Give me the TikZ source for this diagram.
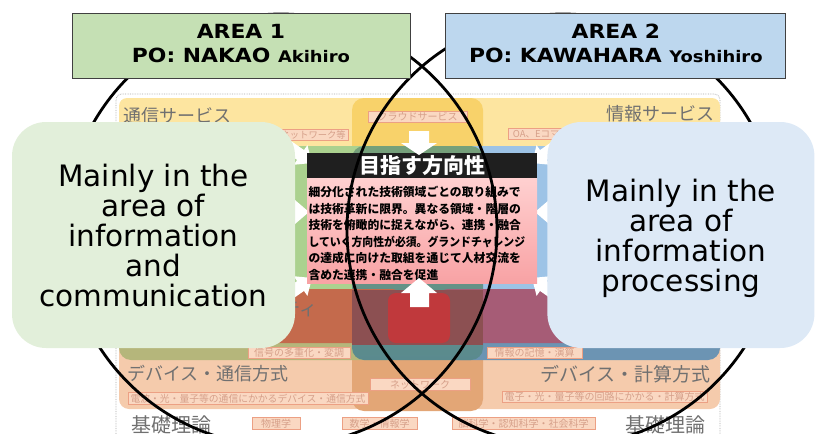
\documentclass[tikz,border=0pt]{standalone}
\usepackage{fontspec}
\setmainfont{DejaVu Sans}
\newfontfamily\wfont[FakeStretch=1.12]{DejaVu Sans}
\newfontfamily\jfont{Noto Sans CJK JP}
\usetikzlibrary{positioning}
\definecolor{titlegreen}{RGB}{197,224,180}
\definecolor{titleblue}{RGB}{189,215,238}
\definecolor{boxgreen}{RGB}{226,239,218}
\definecolor{boxblue}{RGB}{221,233,246}
\definecolor{bandyellow}{RGB}{253,229,160}
\definecolor{colgold}{RGB}{248,210,106}
\definecolor{bandpeach}{RGB}{245,203,172}
\definecolor{coltan}{RGB}{227,166,118}
\definecolor{regiongreen}{RGB}{171,209,143}
\definecolor{regionolive}{RGB}{181,182,123}
\definecolor{regionblue}{RGB}{157,195,230}
\definecolor{regionsteel}{RGB}{108,148,179}
\definecolor{tealtop}{RGB}{118,160,122}
\definecolor{tealbot}{RGB}{90,138,142}
\definecolor{secleft}{RGB}{196,106,76}
\definecolor{seccenter}{RGB}{140,80,82}
\definecolor{secright}{RGB}{166,92,118}
\definecolor{secred}{RGB}{192,57,60}
\definecolor{pinktop}{RGB}{255,208,208}
\definecolor{pinkbot}{RGB}{248,162,164}
\definecolor{lblfill}{RGB}{250,216,194}
\definecolor{lbldraw}{RGB}{236,160,132}
\definecolor{lbltext}{RGB}{214,160,138}
\definecolor{fadetext}{RGB}{112,112,112}

\newcommand{\sidearrow}[3]{\fill[white, shift = {(#1,#2)}, rotate = #3] (0,0) -- (-14,12) -- (-14,6) -- (-40,6) -- (-40,-6) -- (-14,-6) -- (-14,-12) -- cycle;}

\begin{document}
\begin{tikzpicture}[x=1pt, y=-1pt, >=latex, every node/.style={inner sep=0pt}]%
            \tikzstyle{venn} = [ draw = black, line width = 2.8pt]
            \tikzstyle{area} = [ rectangle, draw = black!75, line width = 0.8pt, minimum width = 338pt, minimum height = 65pt]
            \tikzstyle{areatext} = [ align = center, font = \wfont\bfseries\fontsize{19.5}{24}\selectfont, text depth = 0pt]
            \tikzstyle{focus} = [ rectangle, rounded corners = 34pt, minimum height = 226pt, align = center, font = \fontsize{29.5}{30}\selectfont, text depth = 0pt]
            \tikzstyle{lbl} = [ rectangle, draw = lbldraw, fill = lblfill, text = lbltext, line width = 0.6pt, minimum height = 11.5pt, inner xsep = 2pt, font = \jfont\fontsize{10}{12}\selectfont]
            \tikzstyle{bgtext} = [ text = fadetext, font = \jfont\fontsize{18}{18}\selectfont]
            \tikzstyle{goal} = [ rectangle, minimum width = 230pt]
        %%
            \useasboundingbox (0,0) rectangle (815,434);
            \clip (0,0) rectangle (815,434);
            %% Layer map in the background
            \draw[gray!70, densely dotted, line width = 0.7pt, rounded corners = 6pt] (116,94) rectangle (720,470);
            \fill[bandyellow, rounded corners = 8pt] (119,98) rectangle (720,175);
            \fill[bandpeach, rounded corners = 10pt] (119,300) rectangle (720,409);
            \fill[colgold, rounded corners = 12pt] (352,98) rectangle (483,250);
            \fill[coltan, rounded corners = 12pt] (352,300) rectangle (483,411);
            \fill[regionolive, rounded corners = 12pt] (119,146) rectangle (400,360);
            \fill[regiongreen, rounded corners = 12pt] (119,146) rectangle (400,320);
            \fill[regionsteel, rounded corners = 12pt] (440,146) rectangle (720,360);
            \fill[regionblue, rounded corners = 12pt] (440,146) rectangle (720,320);
            \shade[top color = tealtop, bottom color = tealbot, rounded corners = 12pt] (352,146) rectangle (483,360);
            \fill[secleft, rounded corners = 8pt] (119,289) rectangle (400,343);
            \fill[secright, rounded corners = 8pt] (440,289) rectangle (720,343);
            \fill[seccenter] (352,290) rectangle (483,345);
            \fill[secred, rounded corners = 8pt] (388,293) rectangle (450,343);

            %% Labels of the layer map
            \node [bgtext, anchor = west] (commsvc) at (123,116) {通信サービス};
            \node [bgtext, anchor = east] (infosvc) at (715,114) {情報サービス};
            \node [bgtext, anchor = east] (security) at (318,310) {ティ};
            \node [bgtext, anchor = west] (commdevtxt) at (127,374) {デバイス・通信方式};
            \node [bgtext, anchor = east, font = \jfont\fontsize{19}{19}\selectfont] (compdevtxt) at (711,374) {デバイス・計算方式};
            \node [bgtext, anchor = west, font = \jfont\fontsize{20}{20}\selectfont] (theoryl) at (131,425) {基礎理論};
            \node [bgtext, anchor = east, font = \jfont\fontsize{20}{20}\selectfont] (theoryr) at (706,425) {基礎理論};

            \node [lbl, minimum width = 99pt] (cloud) at (417.5,117) {クラウドサービス};
            \node [lbl, minimum width = 71pt, anchor = east, font = \jfont\fontsize{9.3}{12}\selectfont] (netw) at (349,135) {ネットワーク等};
            \node [lbl, minimum width = 84pt, anchor = west, font = \jfont\fontsize{9.5}{12}\selectfont] (ecom) at (508,134) {OA、Eコマース等};
            \node [lbl, minimum width = 102pt] (signal) at (299,353) {信号の多重化・変調};
            \node [lbl, minimum width = 95pt] (memory) at (534.5,353) {情報の記憶・演算};
            \node [lbl, minimum width = 100pt] (network) at (420,384.5) {ネットワーク};
            \node [lbl, minimum width = 240pt, font = \jfont\fontsize{9.8}{12}\selectfont] (commdev) at (248,398.5) {電波・光・量子等の通信にかかるデバイス・通信方式};
            \node [lbl, minimum width = 205pt, font = \jfont\fontsize{10}{12}\selectfont] (compdev) at (604.5,397) {電子・光・量子等の回路にかかる・計算方式};
            \node [lbl, minimum width = 48pt] (phys) at (276,423.5) {物理学};
            \node [lbl, minimum width = 75pt] (math) at (379.5,423.5) {数学・情報学};
            \node [lbl, minimum width = 143pt] (brain) at (523.5,423.5) {脳科学・認知科学・社会科学};

            %% Arrows into the goal
            \sidearrow{312}{163}{-35}
            \sidearrow{309}{212}{0}
            \sidearrow{312}{278}{35}
            \sidearrow{532}{163}{-145}
            \sidearrow{535}{212}{180}
            \sidearrow{532}{278}{145}

            %% Goal
            \node [goal, fill = black!88, minimum height = 25pt, text = white, font = \jfont\bfseries\fontsize{21}{21}\selectfont] (goalbar) at (422,165.5) {目指す方向性};
            \node [goal, top color = pinktop, bottom color = pinkbot, minimum height = 105pt] (goalbox) [below = 0pt of goalbar] {};
            \node [anchor = north west, align = left, font = \jfont\bfseries\fontsize{11.8}{16.5}\selectfont] (goaltxt) at ([xshift = 1.5pt, yshift = -8pt] goalbox.north west) {細分化された技術領域ごとの取り組みで\\は技術革新に限界。異なる領域・階層の\\技術を俯瞰的に捉えながら、連携・融合\\\scalebox{0.92}[1]{していく方向性が必須。グランドチャレンジ}\\の達成に向けた取組を通じて人材交流を\\含めた連携・融合を促進};
            \fill[white] (409,131) -- (429,131) -- (429,143) -- (437,143) -- (419,155) -- (401,143) -- (409,143) -- cycle;
            \fill[white] (419,278) -- (437,293) -- (429,293) -- (429,307) -- (410,307) -- (410,293) -- (401,293) -- cycle;

            %% Venn circles
            \draw[venn] (281,230) circle (216pt);
            \draw[venn] (563,230) circle (216pt);

            %% Focus boxes
            \node [focus, fill = boxgreen, minimum width = 283pt] (commbox) at (153.5,235) {Mainly in the\\area of\\information\\and\\communication};
            \node [focus, fill = boxblue, minimum width = 267pt] (procbox) [right = 252pt of commbox] {Mainly in the\\area of\\information\\processing};

            %% Areas
            \node [area, fill = titlegreen] (area1) at (241,45.5) {};
            \node [area, fill = titleblue, minimum width = 340pt] (area2) [right = 35pt of area1] {};
            \node [areatext] (area1txt) at ([yshift = 2pt] area1.center) {AREA 1\\PO: NAKAO {\fontsize{16}{24}\selectfont Akihiro}};
            \node [areatext] (area2txt) at ([yshift = 2pt] area2.center) {AREA 2\\PO: KAWAHARA {\fontsize{16}{24}\selectfont Yoshihiro}};
        \end{tikzpicture}
\end{document}
